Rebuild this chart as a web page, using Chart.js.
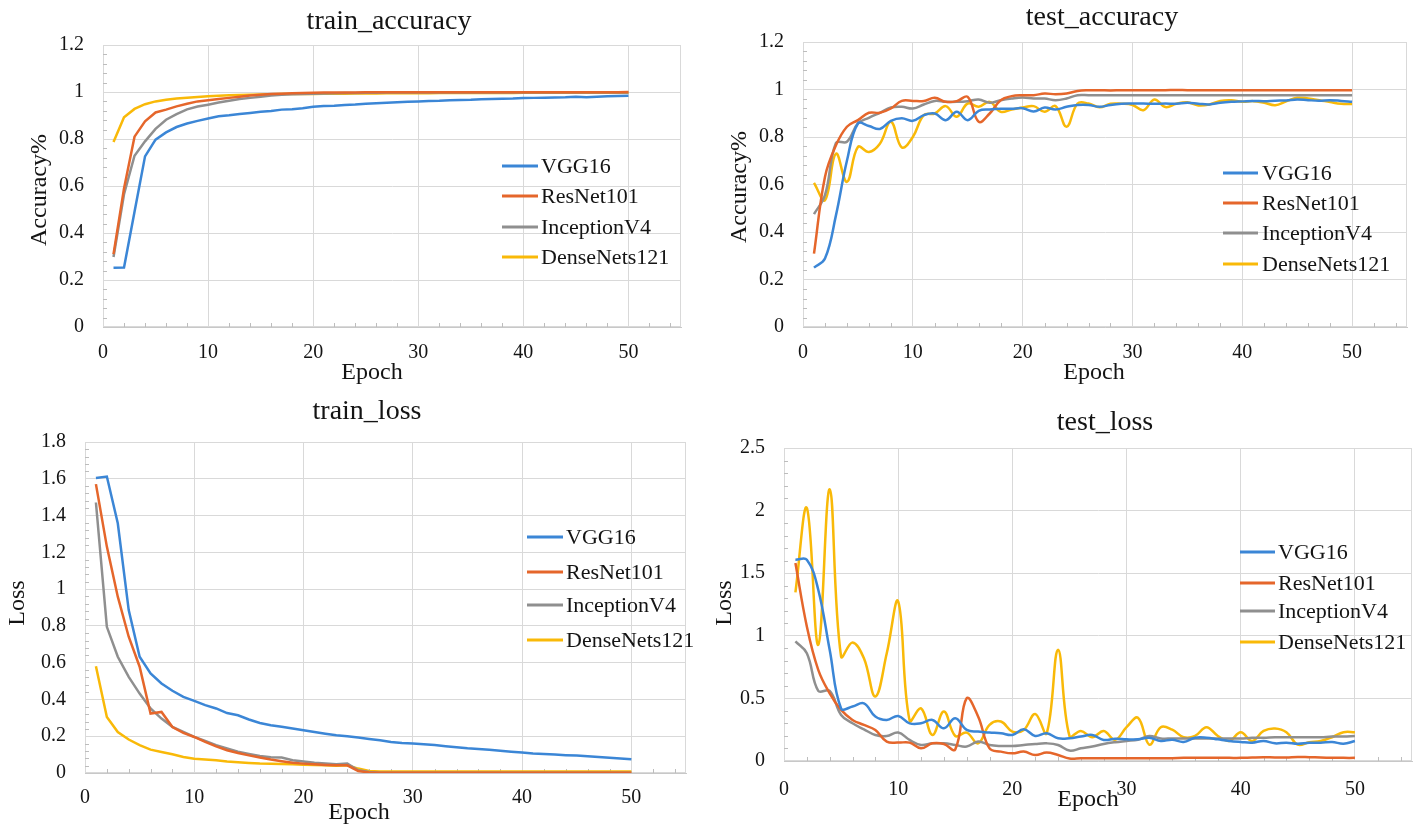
<!DOCTYPE html>
<html><head><meta charset="utf-8">
<script src="https://cdn.jsdelivr.net/npm/chart.js@4.4.1/dist/chart.umd.min.js"></script>
<style>
html,body{margin:0;padding:0;background:#fff;}
body{width:1426px;height:825px;position:relative;overflow:hidden;}
.p{position:absolute;}
</style></head>
<body>
<div class="p" style="left:0;top:0;"><canvas id="c1" width="713" height="400"></canvas></div>
<div class="p" style="left:713px;top:0;"><canvas id="c2" width="713" height="400"></canvas></div>
<div class="p" style="left:0;top:400px;"><canvas id="c3" width="713" height="425"></canvas></div>
<div class="p" style="left:713px;top:400px;"><canvas id="c4" width="713" height="425"></canvas></div>
<script>
// ---------- categories / labels ----------
const epochs = [1,2,3,4,5,6,7,8,9,10,11,12,13,14,15,16,17,18,19,20,21,22,23,24,25,26,27,28,29,30,31,32,33,34,35,36,37,38,39,40,41,42,43,44,45,46,47,48,49,50];
const seriesNames = ['VGG16','ResNet101','InceptionV4','DenseNets121'];
const panelTitles = ['train_accuracy','test_accuracy','train_loss','test_loss'];
const yTitles = ['Accuracy%','Accuracy%','Loss','Loss'];
const xTitle = 'Epoch';
const xTickValues = [0,10,20,30,40,50];

// ---------- train accuracy ----------
const trainAccVGG16 = [0.252,0.253,0.49,0.726,0.797,0.828,0.851,0.866,0.877,0.887,
  0.897,0.901,0.906,0.911,0.916,0.919,0.925,0.927,0.931,0.937,
  0.940,0.942,0.945,0.947,0.950,0.952,0.954,0.956,0.958,0.960,
  0.962,0.963,0.965,0.966,0.967,0.969,0.970,0.971,0.972,0.974,
  0.975,0.976,0.977,0.978,0.980,0.978,0.980,0.982,0.983,0.984];
const trainAccResNet101 = [0.31,0.59,0.81,0.875,0.913,0.925,0.939,0.95,0.96,0.965,
  0.97,0.975,0.98,0.985,0.988,0.991,0.993,0.995,0.996,0.997,
  0.998,0.998,0.998,0.998,0.999,0.999,0.999,0.999,0.999,0.999,
  0.999,0.999,0.999,0.999,0.999,0.999,0.999,0.999,0.999,0.999,
  0.999,0.999,0.999,0.999,0.999,0.999,0.999,0.999,0.999,1.0];
const trainAccInceptionV4 = [0.298,0.565,0.729,0.79,0.843,0.882,0.906,0.926,0.938,0.946,
  0.955,0.963,0.97,0.975,0.98,0.985,0.988,0.99,0.992,0.993,
  0.994,0.995,0.996,0.996,0.997,0.997,0.998,0.998,0.998,0.998,
  0.998,0.998,0.998,0.998,0.998,0.998,0.998,0.998,0.998,0.998,
  0.998,0.998,0.998,0.998,0.998,0.998,0.998,0.998,0.998,0.998];
const trainAccDenseNets121 = [0.787,0.892,0.928,0.948,0.96,0.967,0.972,0.976,0.979,0.982,
  0.984,0.986,0.987,0.988,0.989,0.99,0.991,0.991,0.992,0.992,
  0.993,0.993,0.993,0.994,0.994,0.994,0.995,0.995,0.995,0.995,
  0.995,0.996,0.996,0.996,0.996,0.996,0.996,0.996,0.996,0.997,
  0.997,0.997,0.997,0.997,0.997,0.997,0.997,0.997,0.997,0.997];

// ---------- test accuracy ----------
const testAccVGG16 = [0.25,0.288,0.47,0.70,0.857,0.846,0.834,0.868,0.879,0.868,
  0.892,0.899,0.871,0.906,0.871,0.91,0.916,0.919,0.919,0.921,
  0.907,0.924,0.916,0.927,0.935,0.935,0.927,0.935,0.94,0.941,
  0.941,0.94,0.941,0.94,0.944,0.94,0.937,0.944,0.948,0.95,
  0.952,0.951,0.953,0.954,0.958,0.955,0.953,0.955,0.952,0.948];
const testAccResNet101 = [0.309,0.632,0.765,0.843,0.871,0.902,0.902,0.92,0.952,0.952,
  0.952,0.965,0.948,0.951,0.969,0.864,0.899,0.955,0.972,0.976,
  0.976,0.983,0.98,0.983,0.994,0.997,0.997,0.996,0.997,0.997,
  0.997,0.997,0.997,0.998,0.997,0.997,0.997,0.997,0.997,0.997,
  0.997,0.997,0.997,0.997,0.997,0.997,0.997,0.997,0.997,0.997];
const testAccInceptionV4 = [0.475,0.555,0.775,0.78,0.857,0.881,0.902,0.924,0.927,0.92,
  0.937,0.952,0.948,0.948,0.951,0.958,0.944,0.955,0.962,0.966,
  0.962,0.962,0.955,0.962,0.976,0.976,0.976,0.976,0.976,0.976,
  0.976,0.976,0.976,0.976,0.976,0.976,0.976,0.976,0.976,0.976,
  0.976,0.976,0.976,0.976,0.976,0.976,0.976,0.976,0.976,0.976];
const testAccDenseNets121 = [0.607,0.534,0.73,0.611,0.758,0.737,0.772,0.864,0.756,0.8,
  0.892,0.899,0.93,0.885,0.941,0.927,0.948,0.906,0.916,0.924,
  0.93,0.906,0.93,0.843,0.941,0.941,0.925,0.94,0.94,0.935,
  0.913,0.958,0.926,0.94,0.946,0.933,0.937,0.952,0.955,0.948,
  0.951,0.944,0.934,0.95,0.965,0.962,0.955,0.947,0.94,0.939];

// ---------- train loss ----------
const trainLossVGG16 = [1.604,1.612,1.358,0.886,0.632,0.541,0.487,0.447,0.414,0.392,
  0.369,0.351,0.326,0.314,0.291,0.272,0.26,0.251,0.242,0.232,
  0.223,0.214,0.205,0.2,0.193,0.185,0.178,0.169,0.163,0.16,
  0.157,0.152,0.146,0.14,0.134,0.13,0.126,0.121,0.116,0.111,
  0.106,0.103,0.1,0.097,0.095,0.091,0.087,0.083,0.079,0.075];
const trainLossResNet101 = [1.571,1.231,0.959,0.741,0.578,0.323,0.332,0.25,0.218,0.196,
  0.169,0.145,0.124,0.109,0.096,0.084,0.073,0.064,0.056,0.051,
  0.047,0.044,0.042,0.042,0.011,0.003,0.002,0.002,0.002,0.002,
  0.002,0.002,0.002,0.002,0.002,0.002,0.002,0.002,0.002,0.002,
  0.002,0.002,0.002,0.002,0.002,0.002,0.002,0.002,0.002,0.002];
const trainLossInceptionV4 = [1.471,0.795,0.632,0.523,0.432,0.351,0.296,0.251,0.223,0.196,
  0.174,0.151,0.133,0.116,0.104,0.093,0.086,0.084,0.069,0.062,
  0.056,0.052,0.048,0.051,0.015,0.005,0.002,0.002,0.002,0.002,
  0.002,0.002,0.002,0.002,0.002,0.002,0.002,0.002,0.002,0.002,
  0.002,0.002,0.002,0.002,0.002,0.002,0.002,0.002,0.002,0.002];
const trainLossDenseNets121 = [0.581,0.305,0.223,0.182,0.151,0.127,0.114,0.102,0.087,0.078,
  0.073,0.069,0.062,0.058,0.054,0.051,0.05,0.049,0.047,0.045,
  0.044,0.042,0.04,0.042,0.024,0.011,0.008,0.008,0.008,0.008,
  0.008,0.008,0.008,0.008,0.008,0.008,0.008,0.008,0.008,0.008,
  0.008,0.008,0.008,0.008,0.008,0.008,0.008,0.008,0.008,0.008];

// ---------- test loss ----------
const testLossVGG16 = [1.608,1.608,1.368,0.888,0.42,0.435,0.461,0.355,0.328,0.36,
  0.301,0.301,0.328,0.261,0.341,0.248,0.235,0.227,0.221,0.208,
  0.253,0.2,0.221,0.181,0.181,0.195,0.208,0.168,0.178,0.173,
  0.173,0.186,0.16,0.17,0.152,0.186,0.186,0.173,0.16,0.152,
  0.146,0.16,0.141,0.146,0.138,0.146,0.146,0.152,0.138,0.16];
const testLossResNet101 = [1.581,1.075,0.728,0.541,0.408,0.328,0.288,0.248,0.155,0.147,
  0.147,0.101,0.141,0.136,0.093,0.501,0.355,0.101,0.075,0.061,
  0.075,0.048,0.067,0.048,0.02,0.022,0.022,0.022,0.022,0.022,
  0.022,0.022,0.022,0.022,0.025,0.025,0.025,0.025,0.025,0.025,
  0.028,0.03,0.028,0.028,0.032,0.03,0.028,0.026,0.025,0.025];
const testLossInceptionV4 = [0.955,0.861,0.56,0.56,0.368,0.301,0.253,0.208,0.2,0.227,
  0.168,0.128,0.141,0.141,0.128,0.115,0.155,0.128,0.12,0.12,
  0.128,0.136,0.141,0.128,0.083,0.101,0.115,0.136,0.15,0.16,
  0.17,0.2,0.18,0.18,0.18,0.18,0.18,0.18,0.18,0.18,
  0.185,0.185,0.19,0.19,0.19,0.19,0.19,0.195,0.195,0.2];
const testLossDenseNets121 = [1.347,2.02,0.928,2.17,0.835,0.947,0.82,0.515,0.86,1.275,
  0.323,0.42,0.208,0.395,0.2,0.227,0.141,0.288,0.315,0.235,
  0.248,0.376,0.221,0.888,0.2,0.24,0.19,0.24,0.17,0.27,
  0.345,0.13,0.27,0.25,0.19,0.2,0.27,0.2,0.16,0.23,
  0.16,0.24,0.26,0.23,0.13,0.15,0.16,0.19,0.23,0.23];

// ---------- styling ----------
const seriesColors = ['#3b86d6','#e5662b','#8f8f8f','#f9b908'];
const FONT = "'Liberation Serif','Times New Roman',serif";
const fmtTick = v => String(Number(v.toFixed(2)));

const decor = {
  id: 'decor',
  beforeDatasetsDraw(chart, args, o) {
    const {ctx, chartArea: a, scales: {x, y}} = chart;
    ctx.save();
    ctx.strokeStyle = '#d9d9d9';
    ctx.lineWidth = 1;
    ctx.strokeRect(Math.round(a.left) + 0.5, Math.round(a.top) + 0.5,
      Math.round(a.right - a.left) - 1, Math.round(a.bottom - a.top) - 1);
    ctx.strokeStyle = '#bdbdbd';
    ctx.beginPath();
    for (let v = o.minorY; v < y.max - 1e-9; v += o.minorY) {
      const r = v / o.majorY;
      if (Math.abs(r - Math.round(r)) < 1e-6) continue;
      const py = Math.round(y.getPixelForValue(v)) + 0.5;
      ctx.moveTo(a.left, py); ctx.lineTo(a.left + 4, py);
    }
    for (let v = 2; v < x.max; v += 2) {
      if (v % 10 === 0) continue;
      const px = Math.round(x.getPixelForValue(v)) + 0.5;
      ctx.moveTo(px, a.bottom); ctx.lineTo(px, a.bottom - 4);
    }
    ctx.stroke();
    ctx.restore();
  },
  afterDraw(chart, args, o) {
    const ctx = chart.ctx;
    ctx.save();
    ctx.fillStyle = '#141414';
    ctx.textAlign = 'center';
    ctx.textBaseline = 'middle';
    ctx.font = '28px ' + FONT;
    ctx.fillText(o.title, o.titlePos[0], o.titlePos[1]);
    ctx.font = '24px ' + FONT;
    ctx.fillText(o.xTitle, o.xTitlePos[0], o.xTitlePos[1]);
    ctx.save();
    ctx.translate(o.yTitlePos[0], o.yTitlePos[1]);
    ctx.rotate(-Math.PI / 2);
    ctx.fillText(o.yTitle, 0, 0);
    ctx.restore();
    // legend
    ctx.font = '22px ' + FONT;
    ctx.textAlign = 'left';
    chart.data.datasets.forEach((ds, i) => {
      const ry = o.legend.rows[i];
      ctx.strokeStyle = ds.borderColor;
      ctx.lineWidth = 3;
      ctx.beginPath();
      ctx.moveTo(o.legend.x1, ry); ctx.lineTo(o.legend.x2, ry);
      ctx.stroke();
      ctx.fillStyle = '#141414';
      ctx.fillText(ds.label, o.legend.tx, ry + 1);
    });
    ctx.restore();
  }
};

function makeChart(id, values, p) {
  const datasets = seriesNames.map((name, k) => ({
    label: name,
    data: values[k].map((v, i) => ({x: epochs[i], y: v})),
    borderColor: seriesColors[k],
    backgroundColor: seriesColors[k],
    borderWidth: 2.5,
    pointRadius: 0,
    tension: p.tension,
    fill: false
  }));
  return new Chart(document.getElementById(id), {
    type: 'line',
    data: {datasets},
    plugins: [decor],
    options: {
      responsive: false,
      animation: false,
      devicePixelRatio: 1,
      layout: {padding: {top: p.T, right: p.R, left: 0, bottom: 0}},
      plugins: {
        legend: {display: false},
        tooltip: {enabled: false},
        title: {display: false},
        decor: {
          title: p.title, titlePos: p.titlePos,
          xTitle: xTitle, xTitlePos: p.xTitlePos,
          yTitle: p.yTitle, yTitlePos: p.yTitlePos,
          legend: p.legend, minorY: p.minorY, majorY: p.stepY
        }
      },
      scales: {
        x: {
          type: 'linear', min: 0, max: 55,
          afterFit: s => { s.height = p.B; },
          afterBuildTicks: s => { s.ticks = xTickValues.map(v => ({value: v})); },
          ticks: {padding: p.padX, color: '#141414', font: {family: FONT, size: 20}, maxRotation: 0, callback: fmtTick},
          grid: {color: '#d9d9d9', drawTicks: false},
          border: {color: '#c8c8c8'}
        },
        y: {
          type: 'linear', min: 0, max: p.maxY,
          afterFit: s => { s.width = p.L; },
          ticks: {stepSize: p.stepY, padding: 19, color: '#141414', font: {family: FONT, size: 20}, callback: fmtTick},
          grid: {color: '#d9d9d9', drawTicks: false},
          border: {color: '#c8c8c8'}
        }
      }
    }
  });
}

makeChart('c1', [trainAccVGG16, trainAccResNet101, trainAccInceptionV4, trainAccDenseNets121], {
  L: 103, T: 45, R: 32, B: 73, maxY: 1.2, stepY: 0.2, minorY: 0.04, padX: 14, tension: 0,
  title: panelTitles[0], titlePos: [389, 22], yTitle: yTitles[0], yTitlePos: [40, 190], xTitlePos: [372, 373],
  legend: {x1: 502, x2: 538, tx: 541, rows: [166, 196, 227, 257]}
});
makeChart('c2', [testAccVGG16, testAccResNet101, testAccInceptionV4, testAccDenseNets121], {
  L: 90, T: 42, R: 19, B: 73, maxY: 1.2, stepY: 0.2, minorY: 0.04, padX: 14, tension: 0.4,
  title: panelTitles[1], titlePos: [389, 18], yTitle: yTitles[1], yTitlePos: [27, 187], xTitlePos: [381, 373],
  legend: {x1: 510, x2: 545, tx: 549, rows: [173, 203, 233, 264]}
});
makeChart('c3', [trainLossVGG16, trainLossResNet101, trainLossInceptionV4, trainLossDenseNets121], {
  L: 85, T: 42, R: 27, B: 52, maxY: 1.8, stepY: 0.2, minorY: 0.04, padX: 13, tension: 0,
  title: panelTitles[2], titlePos: [367, 12], yTitle: yTitles[2], yTitlePos: [18, 203], xTitlePos: [359, 413],
  legend: {x1: 527, x2: 563, tx: 566, rows: [137, 172, 205, 240]}
});
makeChart('c4', [testLossVGG16, testLossResNet101, testLossInceptionV4, testLossDenseNets121], {
  L: 71, T: 48, R: 14, B: 64, maxY: 2.5, stepY: 0.5, minorY: 0.1, padX: 17, tension: 0.4,
  title: panelTitles[3], titlePos: [392, 23], yTitle: yTitles[3], yTitlePos: [12, 203], xTitlePos: [375, 400],
  legend: {x1: 527, x2: 562, tx: 565, rows: [152, 183, 211, 242]}
});
</script>
</body></html>
